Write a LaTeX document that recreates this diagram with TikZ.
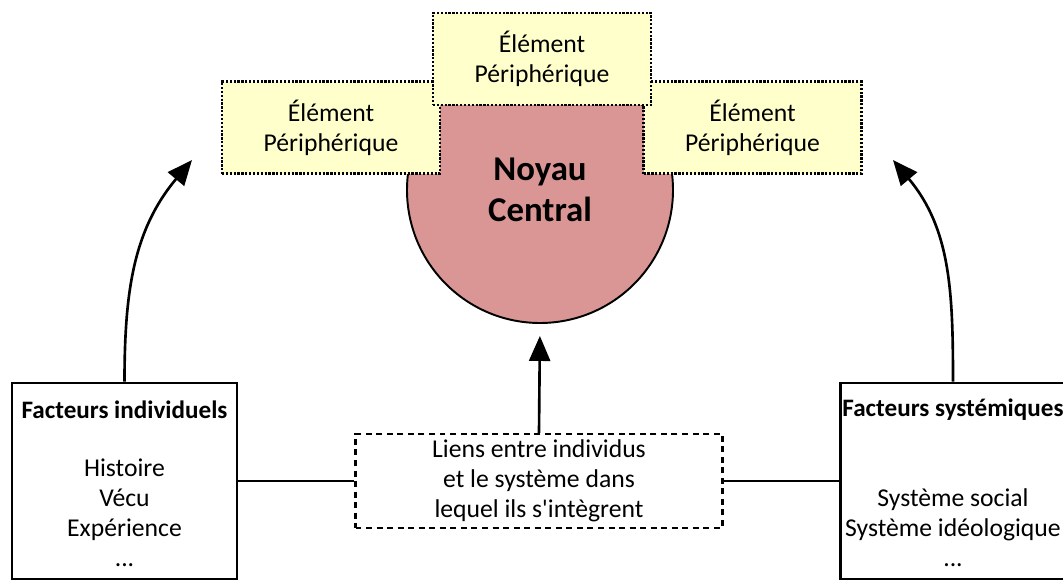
\documentclass[tikz,border=0pt]{standalone}
\usepackage{fontspec}
\setmainfont[Ligatures=TeXOff]{Carlito}
\usepackage{tikz}
\usetikzlibrary{arrows.meta}

\definecolor{rose}{HTML}{D99694}
\definecolor{jaune}{HTML}{FFFFCC}

\tikzset{
  texte/.style={font=\fontsize{14.6}{17.1}\selectfont, align=center},
  titre/.style={font=\fontsize{14.3}{17.1}\selectfont\bfseries},
  periph/.style={texte, draw, fill=jaune, line width=1.3pt,
    dash pattern=on 1.3pt off 0.9pt, minimum width=4.36cm, minimum height=1.84cm},
  facteur/.style={draw, line width=1.5pt, minimum width=4.5cm, minimum height=3.92cm},
  fleche/.style={line width=1.5pt, -{Triangle[length=0.5cm,width=0.42cm]}}
}

\begin{document}
\begin{tikzpicture}
\useasboundingbox (0,0) rectangle (21.26,11.62);
% noyau et elements peripheriques
\node[circle, draw, fill=rose, line width=1.1pt, minimum size=5.32cm,
  font=\fontsize{19.8}{23.3}\selectfont\bfseries, align=center]
  (noyau) at (10.80,7.82) {Noyau\\Central};
\node[periph] (pg) at (6.62,9.07) {Élément\\Périphérique};
\node[periph] (pd) at (15.05,9.07) {Élément\\Périphérique};
\node[periph] (ph) at (10.84,10.44) {Élément\\Périphérique};
% facteurs
\node[facteur] (fi) at (2.49,2.0) {};
\node[facteur] (fs) at (19.06,2.0) {};
\node[titre] (fi-titre) at (2.49,3.42) {Facteurs individuels};
\node[texte] (fi-liste) at (2.49,1.36) {Histoire\\Vécu\\Expérience\\...};
\node[titre] (fs-titre) at (19.06,3.42) {Facteurs systémiques};
\node[texte] (fs-liste) at (19.06,1.06) {Système social\\Système idéologique\\...};
% liens
\node[texte, draw, line width=1.3pt, dash pattern=on 3.4pt off 2.6pt,
  minimum width=7.34cm, minimum height=1.7cm] (liens) at (10.78,2.0)
  {Liens entre individus\\et le système dans\\lequel ils s'intègrent};
\coordinate (cg) at (3.84,8.42);
\coordinate (cd) at (17.86,8.42);
\draw[line width=1.5pt] (fi.east) -- (liens.west);
\draw[line width=1.5pt] (liens.east) -- (fs.west);
\draw[fleche, shorten >=0.24cm] (liens.north) -- (noyau.south);
\draw[fleche] (fi.north) to[out=90,in=230] (cg);
\draw[fleche] (fs.north) to[out=90,in=-50] (cd);
\end{tikzpicture}
\end{document}
